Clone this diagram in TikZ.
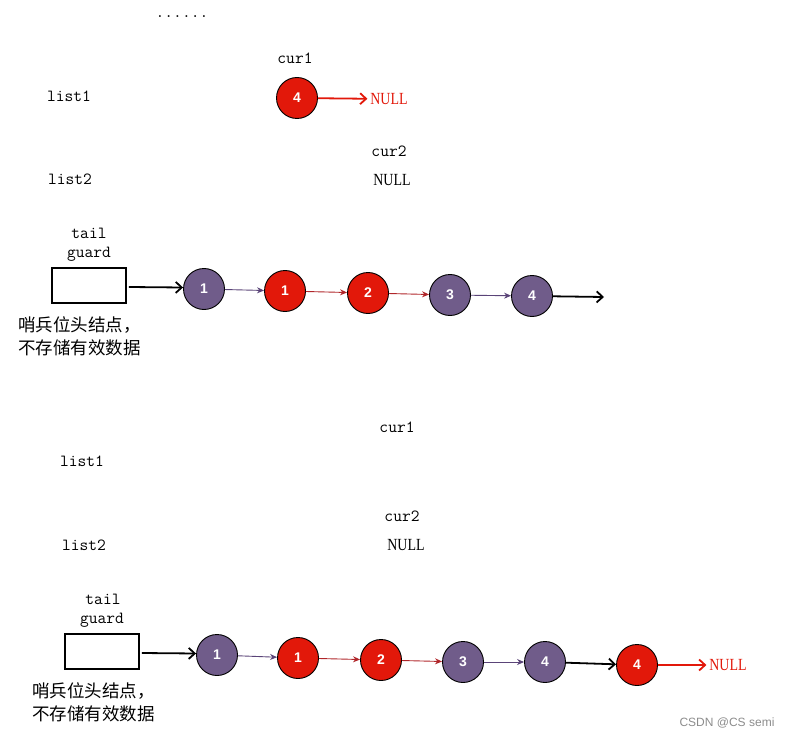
\documentclass[tikz,border=0pt]{standalone}
\usepackage{fontspec}
\setmainfont{Liberation Serif}
\newfontfamily\nullf[FakeStretch=0.82]{Liberation Serif}
\newfontfamily\numf{Liberation Sans}
\newfontfamily\cjk{Noto Sans CJK SC}
\usetikzlibrary{arrows.meta}
\definecolor{nodepurple}{HTML}{705C8A}
\definecolor{nodered}{HTML}{E2180A}
\definecolor{linkred}{HTML}{B0262A}
\definecolor{linkpurple}{HTML}{5A4478}
\begin{document}
\begin{tikzpicture}[x=1pt,y=-1pt,
  lbl/.style={font=\ttfamily\fontsize{17}{19}\selectfont, inner sep=0pt},
  nul/.style={font=\nullf\fontsize{17}{18}\selectfont, inner sep=0pt, outer sep=3pt},
  cn/.style={font=\cjk\fontsize{17.5}{23}\selectfont, align=left, inner sep=0pt, anchor=north west},
  pnode/.style={circle, draw=black, line width=0.9pt, fill=nodepurple, minimum size=41pt, inner sep=0pt, text=white, font=\numf\bfseries\fontsize{14}{16}\selectfont},
  rnode/.style={pnode, fill=nodered},
  guardbox/.style={draw=black, line width=1.8pt, minimum width=74pt, minimum height=35pt, inner sep=0pt},
  thick arrow/.style={line width=1.8pt, -{Straight Barb[length=6pt,width=11pt,line width=1.8pt]}},
  red arrow/.style={draw=nodered, line width=1.8pt, -{Straight Barb[length=6pt,width=11pt,line width=1.8pt]}},
  plink/.style={draw=linkpurple, line width=0.9pt, -{Stealth[length=7pt,width=6pt]}},
  rlink/.style={draw=linkred, line width=0.9pt, -{Stealth[length=7pt,width=6pt]}}
]
\useasboundingbox (0,0) rectangle (800,738);

% ---------- section 1 ----------
\node[lbl] (dots) at (182,17) {......};
\node[lbl] (c1a) at (295,58) {cur1};
\node[lbl] (l1a) at (69,96) {list1};
\node[rnode] (ta) at (297,98) {4};
\node[nul, text=nodered] (na) at (389,99) {NULL};
\draw[red arrow] (ta) -- (na);
\node[lbl] (c2a) at (389,151) {cur2};
\node[nul] (n2a) at (392,180) {NULL};
\node[lbl] (l2a) at (70,179) {list2};
\node[lbl] (taila) at (89,233) {tail};
\node[lbl] (guarda) at (89,254) {guard};
\node[guardbox] (ga) at (89,285.5) {};
\node[pnode] (a1) at (204,289) {1};
\node[rnode] (a2) at (285,291) {1};
\node[rnode] (a3) at (368,293) {2};
\node[pnode] (a4) at (450,295) {3};
\node[pnode] (a5) at (532,296) {4};
\coordinate (aend) at (604,297);
\draw[thick arrow] ([shift={(2,1.5)}]ga.east) -- ([yshift=1.5pt]a1.west);
\draw[plink] (a1) -- (a2);
\draw[rlink] (a2) -- (a3);
\draw[rlink] (a3) -- (a4);
\draw[plink] (a4) -- (a5);
\draw[thick arrow] (a5) -- (aend);
\node[cn] (cna) at (18,316) {哨兵位头结点，\\不存储有效数据};

% ---------- section 2 ----------
\node[lbl] (c1b) at (397,427) {cur1};
\node[lbl] (l1b) at (82,461) {list1};
\node[lbl] (c2b) at (402,516) {cur2};
\node[nul] (n2b) at (406,545) {NULL};
\node[lbl] (l2b) at (84,545) {list2};
\node[lbl] (tailb) at (103,599) {tail};
\node[lbl] (guardb) at (102,620) {guard};
\node[guardbox] (gb) at (102,651.5) {};
\node[pnode] (b1) at (217,655) {1};
\node[rnode] (b2) at (298,658) {1};
\node[rnode] (b3) at (381,660) {2};
\node[pnode] (b4) at (463,662) {3};
\node[pnode] (b5) at (545,662) {4};
\node[rnode] (b6) at (637,665) {4};
\node[nul, text=nodered] (nb) at (728,665) {NULL};
\draw[thick arrow] ([shift={(2,1.5)}]gb.east) -- ([yshift=1.5pt]b1.west);
\draw[plink] (b1) -- (b2);
\draw[rlink] (b2) -- (b3);
\draw[rlink] (b3) -- (b4);
\draw[plink] (b4) -- (b5);
\draw[thick arrow] (b5) -- (b6);
\draw[red arrow] (b6) -- (nb);
\node[cn] (cnb) at (32,682) {哨兵位头结点，\\不存储有效数据};

\node[font=\numf\fontsize{12}{14}\selectfont, text=black!45, inner sep=0pt] (wm) at (727,723) {CSDN @CS semi};
\end{tikzpicture}
\end{document}
